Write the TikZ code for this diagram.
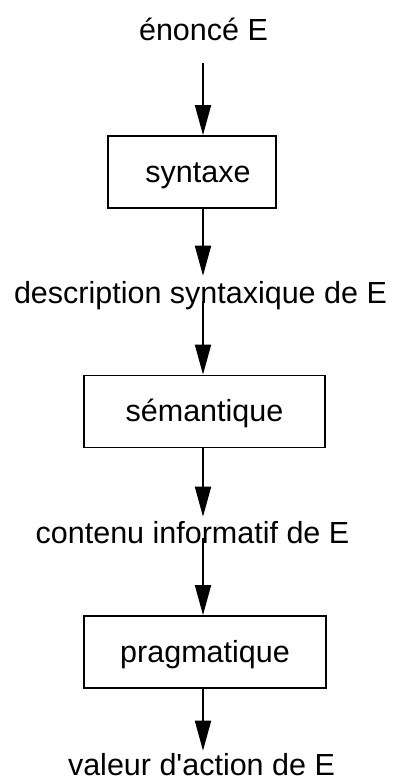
\documentclass[tikz,border=0pt]{standalone}
\usepackage{fontspec}
\setmainfont{Liberation Sans}
\usetikzlibrary{arrows.meta}
\begin{document}
\begin{tikzpicture}[x=1pt,y=-1pt,
  lbl/.style={anchor=base, inner sep=0pt, font=\fontsize{30.5}{36}\selectfont},
  box/.style={draw, line width=1.8pt, minimum height=72pt, inner sep=0pt,
    text height=24pt, text depth=4pt, font=\fontsize{30.5}{36}\selectfont},
  arr/.style={line width=1.8pt, -{Triangle[length=30pt,width=16pt]}}]
\useasboundingbox (0,0) rectangle (396,782);
\coordinate (ax) at (203,0);
% texts
\node[lbl] (enonce) at (203.5,40) {énoncé E};
\node[lbl] (desc) at (200.5,303) {description syntaxique de E};
\node[lbl] (cont) at (192.5,543) {contenu informatif de E};
\node[lbl] (val) at (201.5,775) {valeur d\textquotesingle action de E};
% boxes
\node[box, minimum width=168pt] (syn) at (192,172) {\hspace{12pt}syntaxe};
\node[box, minimum width=241pt] (sem) at (204.5,411.5) {sémantique\hspace{9pt}};
\node[box, minimum width=242pt] (prag) at (205,652) {pragmatique\hspace{7pt}};
% arrows
\coordinate (a1s) at (203,63);
\draw[arr] (a1s) -- (syn.north -| ax);
\draw[arr, shorten >=5pt] (syn.south -| ax) -- (desc.north -| ax);
\draw[arr] ([yshift=2pt]desc.base -| ax) -- (sem.north -| ax);
\draw[arr, shorten >=4pt] (sem.south -| ax) -- (cont.north -| ax);
\draw[arr] ([yshift=5pt]cont.base -| ax) -- (prag.north -| ax);
\draw[arr, shorten >=2pt] (prag.south -| ax) -- (val.north -| ax);
\end{tikzpicture}
\end{document}
